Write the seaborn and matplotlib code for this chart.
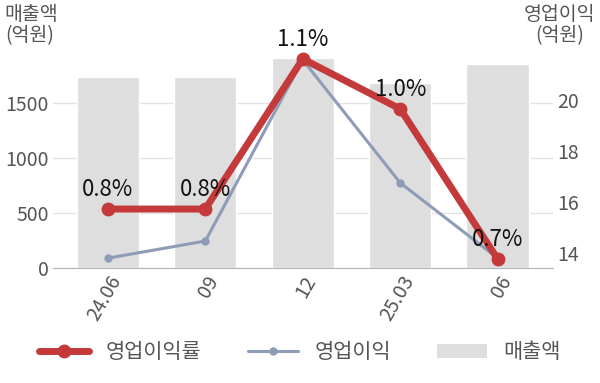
import numpy as np
import pandas as pd
import matplotlib
matplotlib.use("Agg")
import matplotlib.pyplot as plt
import seaborn as sns
from matplotlib.lines import Line2D
from matplotlib.patches import Patch

categories = ["24.06", "09", "12", "25.03", "06"]
revenue = [1736, 1736, 1909, 1682, 1855]          # 매출액 (억원)
op_profit = [13.8, 14.47, 21.57, 16.75, 13.8]      # 영업이익 (억원)
op_margin = [0.8, 0.8, 1.1, 1.0, 0.7]              # 영업이익률 (%)
margin_labels = ["0.8%", "0.8%", "1.1%", "1.0%", "0.7%"]

sns.set_style("white")
plt.rcParams["font.family"] = ["Noto Sans CJK KR", "DejaVu Sans"]

RED = "#C4393A"
BLUE = "#8F9CB8"
BAR = "#DEDEDE"
GRAY_TXT = "#555555"

df = pd.DataFrame({"cat": categories, "rev": revenue})
x = np.arange(len(categories))

fig = plt.figure(figsize=(6.0, 3.83), dpi=100)
ax = fig.add_axes([0.088, 0.300, 0.834, 0.575])
sns.barplot(data=df, x="cat", y="rev", color=BAR, width=0.64, ax=ax, saturation=1)
ax.set_xlim(-0.565, 4.57)
ax.set_ylim(0, 2000)
ax.set_yticks([0, 500, 1000, 1500])
ax.set_xlabel("")
ax.set_ylabel("")
ax.yaxis.grid(True, color="#E3E3E3", lw=1)
ax.set_axisbelow(True)
for s in ["top", "right", "left"]:
    ax.spines[s].set_visible(False)
ax.spines["bottom"].set_color("#B5B5B5")
ax.tick_params(axis="both", length=0, labelsize=14, colors=GRAY_TXT, pad=3)
ax.set_xticks(x)
ax.set_xticklabels(categories, rotation=60, ha="right", rotation_mode="anchor")

ax2 = ax.twinx()
ax2.set_ylim(13.41, 22.04)
ax2.set_yticks([14, 16, 18, 20])
sns.lineplot(x=x, y=op_profit, ax=ax2, color=BLUE, lw=2.2, marker="o",
             markersize=6, markeredgewidth=0)
for s in ["top", "right", "left", "bottom"]:
    ax2.spines[s].set_visible(False)
ax2.tick_params(axis="y", length=0, labelsize=14, colors=GRAY_TXT, pad=3)

ax3 = ax.twinx()
ax3.set_ylim(0.682, 1.122)
sns.lineplot(x=x, y=op_margin, ax=ax3, color=RED, lw=5, marker="o",
             markersize=10, markeredgewidth=0)
ax3.axis("off")
for xi, v, lab in zip(x, op_margin, margin_labels):
    ax3.annotate(lab, (xi, v), xytext=(0, 6), textcoords="offset points",
                 ha="center", va="bottom", fontsize=16, color="#111111",
                 annotation_clip=False)

fig.text(0.008, 0.99, "매출액\n(억원)", ha="left", va="top", fontsize=14,
         color=GRAY_TXT, linespacing=1.0)
fig.text(0.992, 0.99, "영업이익\n(억원)", ha="right", va="top", fontsize=14,
         color=GRAY_TXT, linespacing=1.0, multialignment="center")

handles = [
    Line2D([], [], color=RED, lw=5, marker="o", markersize=10, markeredgewidth=0),
    Line2D([], [], color=BLUE, lw=2.2, marker="o", markersize=6, markeredgewidth=0),
    Patch(facecolor=BAR, edgecolor="none"),
]
fig.legend(handles, ["영업이익률", "영업이익", "매출액"], loc="center",
           bbox_to_anchor=(0.5, 0.081), ncol=3, frameon=False, fontsize=15,
           labelcolor=GRAY_TXT, handlelength=2.4, handleheight=0.67,
           columnspacing=2.2, handletextpad=0.8)

fig.savefig("out.png", dpi=100)
